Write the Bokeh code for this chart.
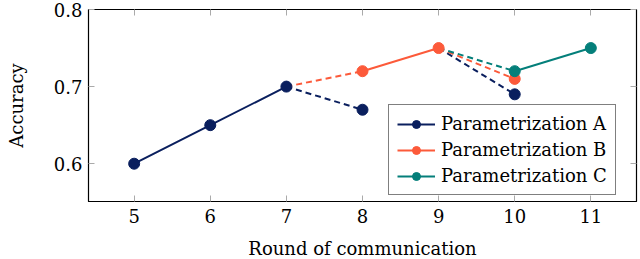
from bokeh.plotting import figure
from bokeh.models import LinearAxis, Legend, LegendItem, FixedTicker, Range1d
from bokeh.embed import file_html
from bokeh.resources import INLINE

# ---- data ----
rounds_ticks = [5, 6, 7, 8, 9, 10, 11]
acc_ticks = [0.6, 0.7, 0.8]

# Parametrization A
a_solid_x = [5, 6, 7]
a_solid_y = [0.60, 0.65, 0.70]
a_dash_xs = [[7, 8], [9, 10]]
a_dash_ys = [[0.70, 0.67], [0.75, 0.69]]
a_mark_x = [5, 6, 7, 8, 10]
a_mark_y = [0.60, 0.65, 0.70, 0.67, 0.69]

# Parametrization B
b_solid_x = [8, 9]
b_solid_y = [0.72, 0.75]
b_dash_xs = [[7, 8], [9, 10]]
b_dash_ys = [[0.70, 0.72], [0.75, 0.71]]
b_mark_x = [8, 9, 10]
b_mark_y = [0.72, 0.75, 0.71]

# Parametrization C
c_solid_x = [10, 11]
c_solid_y = [0.72, 0.75]
c_dash_xs = [[9, 10]]
c_dash_ys = [[0.75, 0.72]]
c_mark_x = [10, 11]
c_mark_y = [0.72, 0.75]

names = ["Parametrization A", "Parametrization B", "Parametrization C"]
colors = ["#0a1f5e", "#fc5a3a", "#047f7a"]

FONT = "DejaVu Serif"
FS = "18px"

p = figure(output_backend="svg", toolbar_location=None,
           x_range=Range1d(4.4, 11.6), y_range=Range1d(0.551, 0.8),
           min_border_left=88, min_border_right=2, min_border_top=9, min_border_bottom=57)
p.frame_width = 548
p.frame_height = 192
p.xgrid.visible = False
p.ygrid.visible = False
p.outline_line_color = "black"
p.outline_line_width = 1.2
p.background_fill_color = "white"
p.border_fill_color = "white"

for ax in (p.xaxis[0], p.yaxis[0]):
    ax.major_tick_in = 6
    ax.major_tick_out = 0
    ax.minor_tick_in = 0
    ax.minor_tick_out = 0
    ax.major_tick_line_color = "#aaaaaa"
    ax.axis_line_color = "black"
    ax.major_label_text_font = FONT
    ax.major_label_text_font_size = FS
    ax.major_label_text_color = "black"
    ax.axis_label_text_font = FONT
    ax.axis_label_text_font_size = FS
    ax.axis_label_text_font_style = "normal"
    ax.axis_label_text_color = "black"

p.xaxis[0].ticker = FixedTicker(ticks=rounds_ticks)
p.yaxis[0].ticker = FixedTicker(ticks=acc_ticks)
p.yaxis[0].major_label_overrides = {v: f"{v:.1f}" for v in acc_ticks}
p.xaxis[0].axis_label = "Round of communication"
p.yaxis[0].axis_label = "Accuracy"
p.xaxis[0].major_label_standoff = 7
p.yaxis[0].major_label_standoff = 6
p.xaxis[0].axis_label_standoff = 12
p.yaxis[0].axis_label_standoff = 24

# mirrored ticks on top/right
top = LinearAxis(ticker=FixedTicker(ticks=rounds_ticks), major_tick_in=6, major_tick_out=0,
                 minor_tick_in=0, minor_tick_out=0,
                 major_label_overrides={t: "" for t in rounds_ticks},
                 major_label_standoff=0, major_tick_line_color="#aaaaaa", axis_line_color=None)
right = LinearAxis(ticker=FixedTicker(ticks=acc_ticks), major_tick_in=6, major_tick_out=0,
                   minor_tick_in=0, minor_tick_out=0,
                   major_label_overrides={t: "" for t in acc_ticks},
                   major_label_standoff=0, major_tick_line_color="#aaaaaa", axis_line_color=None)
p.add_layout(top, "above")
p.add_layout(right, "right")

series = [
    (a_solid_x, a_solid_y, a_dash_xs, a_dash_ys, a_mark_x, a_mark_y),
    (b_solid_x, b_solid_y, b_dash_xs, b_dash_ys, b_mark_x, b_mark_y),
    (c_solid_x, c_solid_y, c_dash_xs, c_dash_ys, c_mark_x, c_mark_y),
]

LW = 2
solid_r = []
for (sx, sy, dxs, dys, mx, my), col in zip(series, colors):
    p.multi_line(dxs, dys, line_color=col, line_width=LW, line_dash="6 4")
    solid_r.append(p.line(sx, sy, line_color=col, line_width=LW))

mark_r = []
for (sx, sy, dxs, dys, mx, my), col in zip(series, colors):
    mark_r.append(p.scatter(mx, my, size=11, fill_color=col, line_color=col))

items = [LegendItem(label=n, renderers=[l, m]) for n, l, m in zip(names, solid_r, mark_r)]
legend = Legend(items=items, location=(300, 6))
legend.label_text_font = FONT
legend.label_text_font_size = FS
legend.label_text_color = "black"
legend.border_line_color = "black"
legend.border_line_width = 1.2
legend.glyph_width = 38
legend.glyph_height = 20
legend.label_height = 20
legend.spacing = 5
legend.padding = 8
legend.margin = 0
legend.label_standoff = 6
legend.background_fill_alpha = 1
p.add_layout(legend, "center")

open("out.html", "w").write(file_html(p, INLINE))
